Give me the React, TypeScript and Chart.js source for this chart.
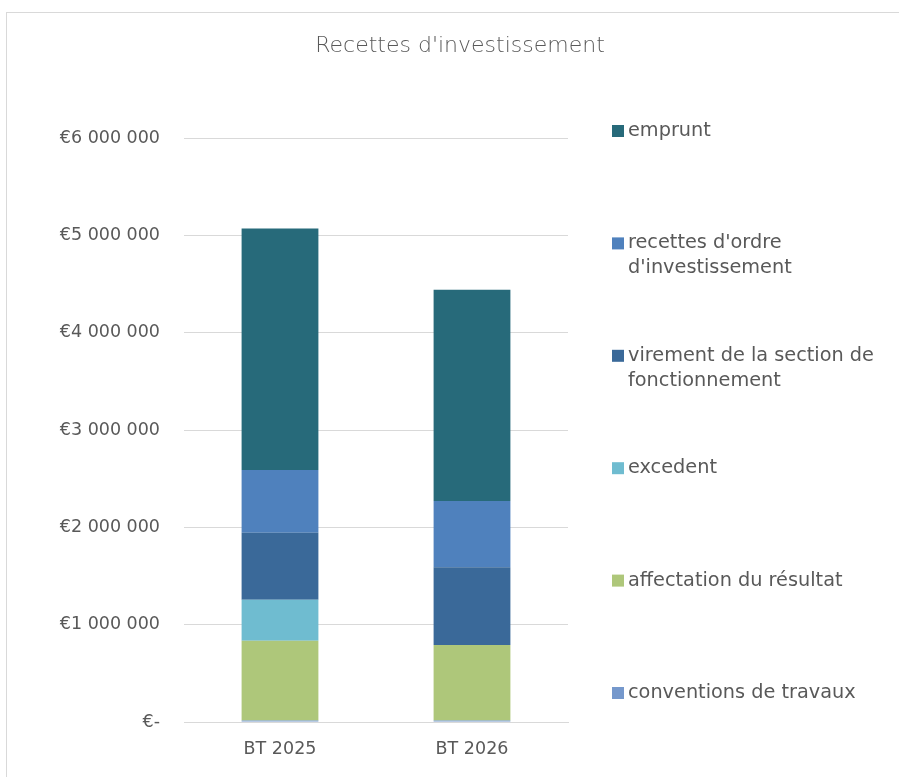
import React, { useEffect, useRef } from "react";
import { Chart, registerables } from "chart.js";

Chart.register(...registerables);

const TITLE = "Recettes d'investissement";
const CATEGORIES = ["BT 2025", "BT 2026"];

// stacked from bottom to top
const SERIES_NAMES = [
  "conventions de travaux",
  "affectation du résultat",
  "excedent",
  "virement de la section de fonctionnement",
  "recettes d'ordre d'investissement",
  "emprunt",
];
const LEGEND_LINES = [
  ["conventions de travaux"],
  ["affectation du résultat"],
  ["excedent"],
  ["virement de la section de", "fonctionnement"],
  ["recettes d'ordre", "d'investissement"],
  ["emprunt"],
];
const CONVENTIONS = [15000, 15000];
const AFFECTATION = [820000, 775000];
const EXCEDENT = [420000, 0];
const VIREMENT = [690000, 800000];
const RECETTES_ORDRE = [645000, 680000];
const EMPRUNT = [2480000, 2170000];
const SERIES_VALUES = [CONVENTIONS, AFFECTATION, EXCEDENT, VIREMENT, RECETTES_ORDRE, EMPRUNT];
const SERIES_COLORS = ["#7598CC", "#AEC77A", "#6FBCD0", "#3A6999", "#4F81BD", "#276A7A"];

const Y_TICK_LABELS = ["€-", "€1 000 000", "€2 000 000", "€3 000 000", "€4 000 000", "€5 000 000", "€6 000 000"];

const FONT = '"DejaVu Sans", sans-serif';
const TEXT = "#595959";

const overlayPlugin = {
  id: "overlayTitleLegend",
  afterDraw(chart: any) {
    const ctx = chart.ctx;
    ctx.save();
    ctx.fillStyle = TEXT;
    ctx.textBaseline = "middle";
    ctx.textAlign = "center";
    ctx.font = `300 22px ${FONT}`;
    ctx.fillText(TITLE, 453, 33);

    ctx.textAlign = "left";
    ctx.font = `19.3px ${FONT}`;
    const n = chart.data.datasets.length;
    const top = 118;
    const step = 112.4;
    for (let k = 0; k < n; k++) {
      const i = n - 1 - k;
      const ds = chart.data.datasets[i];
      const y = top + k * step;
      ctx.fillStyle = ds.backgroundColor;
      ctx.fillRect(605, y - 6, 12, 12);
      ctx.fillStyle = TEXT;
      const lines = LEGEND_LINES[i];
      lines.forEach((ln: string, j: number) => {
        ctx.fillText(ln, 621, y + j * 25);
      });
    }
    ctx.restore();
  },
};

export default function App() {
  const ref = useRef<HTMLCanvasElement | null>(null);
  useEffect(() => {
    if (!ref.current) return;
    const chart = new Chart(ref.current, {
      type: "bar",
      data: {
        labels: CATEGORIES,
        datasets: SERIES_NAMES.map((name, i) => ({
          label: name,
          data: SERIES_VALUES[i],
          backgroundColor: SERIES_COLORS[i],
          borderWidth: 0,
          categoryPercentage: 1,
          barPercentage: 0.4,
        })),
      },
      options: {
        animation: false,
        responsive: true,
        maintainAspectRatio: false,
        layout: { padding: { top: 125, right: 337, bottom: 29, left: 0 } },
        plugins: {
          legend: { display: false },
          title: { display: false },
          tooltip: { enabled: false },
        },
        scales: {
          x: {
            stacked: true,
            grid: { display: false, drawTicks: false },
            border: { color: "#d9d9d9", width: 1 },
            ticks: { color: TEXT, font: { family: FONT, size: 17.5 }, padding: 17 },
            afterFit: (s: any) => { s.height = 40; },
          },
          y: {
            stacked: true,
            min: 0,
            max: 6000000,
            grid: { color: "#d9d9d9", drawTicks: false, lineWidth: 1 },
            border: { display: false },
            ticks: {
              stepSize: 1000000,
              color: TEXT,
              font: { family: FONT, size: 17.5 },
              padding: 24,
              callback: (v: any) => Y_TICK_LABELS[Math.round(Number(v) / 1000000)],
            },
            afterFit: (s: any) => { s.width = 177; },
          },
        },
      },
      plugins: [overlayPlugin],
    });
    return () => chart.destroy();
  }, []);
  return (
    <div
      style={{
        position: "fixed",
        left: 6,
        top: 12,
        width: 898,
        height: 778,
        border: "1px solid #d9d9d9",
        background: "#fff",
      }}
    >
      <canvas ref={ref} />
    </div>
  );
}
